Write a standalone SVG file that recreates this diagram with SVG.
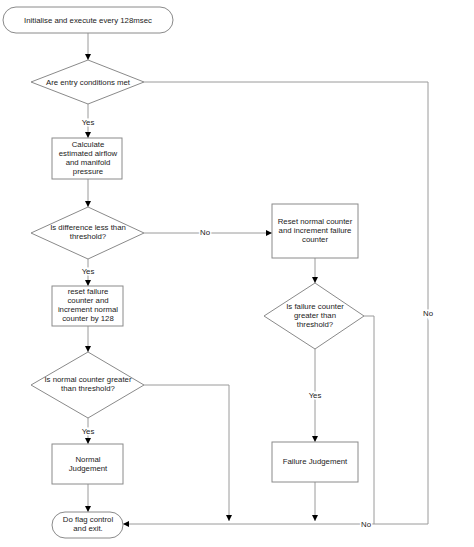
<svg xmlns="http://www.w3.org/2000/svg" width="474" height="547" viewBox="0 0 474 547">
<defs>
<marker id="arr" markerUnits="userSpaceOnUse" markerWidth="6" markerHeight="6" refX="6" refY="3" orient="auto">
<path d="M0,0 L6,3 L0,6 z" fill="#000"/>
</marker>
<style>
.shape{fill:#fff;stroke:#8a8a8a;stroke-width:1}
.conn{fill:none;stroke:#9a9a9a;stroke-width:1}
.arrow{marker-end:url(#arr)}
text{font-family:"Liberation Sans",Arial,sans-serif;font-size:7.8px;fill:#222;text-anchor:middle}
.lbl{stroke:#fff;stroke-width:3;paint-order:stroke}
</style>
</defs>
<rect width="474" height="547" fill="#fff"/>
<g id="connectors">
<path class="conn arrow" d="M88,33 V60"/>
<path class="conn arrow" d="M88,104 V138"/>
<path class="conn arrow" d="M88,179 V207"/>
<path class="conn arrow" d="M88,259 V286"/>
<path class="conn arrow" d="M88,326 V352"/>
<path class="conn arrow" d="M88,418 V444"/>
<path class="conn arrow" d="M88,484 V512"/>
<path class="conn arrow" d="M144,82 H428 V524 H123"/>
<path class="conn arrow" d="M144,233 H272"/>
<path class="conn arrow" d="M315,258 V283"/>
<path class="conn arrow" d="M315,349 V442"/>
<path class="conn arrow" d="M315,482 V521"/>
<path class="conn" d="M364,316 H374 V524"/>
<path class="conn arrow" d="M144,385 H229 V521"/>
<text class="lbl" x="88" y="125">Yes</text>
<text class="lbl" x="88" y="274">Yes</text>
<text class="lbl" x="88" y="434">Yes</text>
<text class="lbl" x="315" y="398">Yes</text>
<text class="lbl" x="205" y="235">No</text>
<text class="lbl" x="428" y="316">No</text>
<text class="lbl" x="366" y="527">No</text>
</g>
<g id="start">
<rect class="shape" x="3" y="7" width="170" height="26" rx="13"/>
<text x="88" y="23">Initialise and execute every 128msec</text>
</g>
<g id="entry">
<path class="shape" d="M31,82 L88,60 L144,82 L88,104 z"/>
<text x="88" y="85">Are entry conditions met</text>
</g>
<g id="calc">
<rect class="shape" x="52" y="138" width="70" height="41"/>
<text x="88" y="147">Calculate</text>
<text x="88" y="156">estimated airflow</text>
<text x="88" y="165">and manifold</text>
<text x="88" y="174">pressure</text>
</g>
<g id="diff">
<path class="shape" d="M31,233 L88,207 L144,233 L88,259 z"/>
<text x="88" y="230">Is difference less than</text>
<text x="88" y="239">threshold?</text>
</g>
<g id="resetFail">
<rect class="shape" x="52" y="286" width="71" height="40"/>
<text x="88" y="294">reset failure</text>
<text x="88" y="303">counter and</text>
<text x="88" y="312">increment normal</text>
<text x="88" y="321">counter by 128</text>
</g>
<g id="normalQ">
<path class="shape" d="M31,385 L88,352 L144,385 L88,418 z"/>
<text x="88" y="382">Is normal counter greater</text>
<text x="88" y="391">than threshold?</text>
</g>
<g id="normalJ">
<rect class="shape" x="52" y="444" width="71" height="40"/>
<text x="88" y="462">Normal</text>
<text x="88" y="471">Judgement</text>
</g>
<g id="end">
<rect class="shape" x="52" y="512" width="71" height="26" rx="13"/>
<text x="88" y="522">Do flag control</text>
<text x="88" y="531">and exit.</text>
</g>
<g id="resetNormal">
<rect class="shape" x="272" y="204" width="86" height="54"/>
<text x="315" y="224">Reset normal counter</text>
<text x="315" y="233">and increment failure</text>
<text x="315" y="242">counter</text>
</g>
<g id="failQ">
<path class="shape" d="M264,316 L315,283 L364,316 L315,349 z"/>
<text x="315" y="309">Is failure counter</text>
<text x="315" y="318">greater than</text>
<text x="315" y="327">threshold?</text>
</g>
<g id="failJ">
<rect class="shape" x="272" y="442" width="86" height="40"/>
<text x="315" y="464">Failure Judgement</text>
</g>
</svg>
